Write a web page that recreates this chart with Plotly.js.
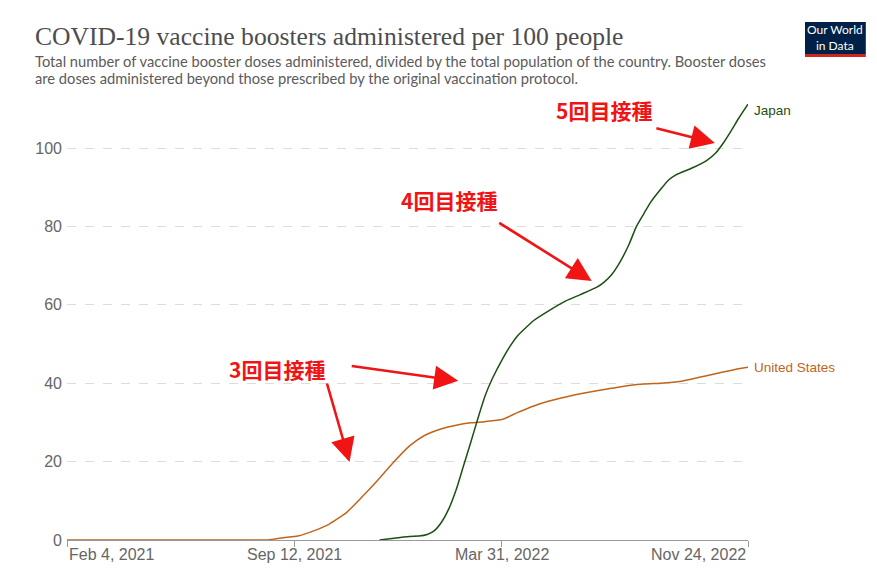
<!DOCTYPE html>
<html>
<head>
<meta charset="utf-8">
<script src="https://cdn.plot.ly/plotly-3.0.1.min.js"></script>
<style>
  html, body { margin: 0; padding: 0; background: #fff; }
  #chart { width: 877px; height: 572px; }
</style>
</head>
<body>
<div id="chart"></div>
<script>
// United States, booster doses per 100 people
const usDates = [
  "2021-02-04", "2021-08-01", "2021-08-15", "2021-09-01", "2021-09-15",
  "2021-10-01", "2021-10-15", "2021-11-01", "2021-11-15", "2021-12-01",
  "2021-12-15", "2022-01-01", "2022-01-15", "2022-02-01", "2022-02-15",
  "2022-03-01", "2022-03-15", "2022-04-01", "2022-04-15", "2022-05-01",
  "2022-05-15", "2022-06-01", "2022-06-15", "2022-07-01", "2022-07-15",
  "2022-08-01", "2022-08-15", "2022-09-01", "2022-09-15", "2022-10-01",
  "2022-10-15", "2022-11-01", "2022-11-15", "2022-11-24",
];
const usValues = [
  0, 0, 0, 0.6, 1.0,
  2.4, 4.0, 7.0, 10.7, 15.2,
  19.4, 24.0, 26.6, 28.4, 29.3,
  29.9, 30.2, 30.8, 32.5, 34.2,
  35.4, 36.5, 37.3, 38.1, 38.7,
  39.4, 39.8, 40.0, 40.3, 41.1,
  41.9, 42.9, 43.7, 44.1,
];

// Japan, booster doses per 100 people
const japanDates = [
  "2021-12-03", "2021-12-15", "2022-01-01", "2022-01-10", "2022-01-18",
  "2022-01-25", "2022-02-01", "2022-02-08", "2022-02-15", "2022-02-22",
  "2022-03-01", "2022-03-08", "2022-03-15", "2022-03-22", "2022-04-01",
  "2022-04-08", "2022-04-15", "2022-05-01", "2022-05-15", "2022-06-01",
  "2022-06-15", "2022-07-01", "2022-07-08", "2022-07-15", "2022-07-22",
  "2022-08-01", "2022-08-08", "2022-08-15", "2022-08-22", "2022-09-01",
  "2022-09-08", "2022-09-15", "2022-10-01", "2022-10-15", "2022-10-24",
  "2022-11-01", "2022-11-08", "2022-11-15", "2022-11-24",
];
const japanValues = [
  0, 0.4, 0.9, 1.0, 1.4,
  2.4, 4.6, 8.0, 12.8, 18.8,
  24.8, 31.0, 36.8, 41.2, 46.3,
  49.4, 52.0, 56.0, 58.4, 61.0,
  62.6, 64.5, 65.8, 67.6, 70.3,
  75.4, 79.9, 83.1, 86.2, 89.6,
  91.8, 93.1, 94.9, 96.8, 98.8,
  101.6, 104.5, 107.6, 111.2,
];

const tickDates = ["2021-02-04", "2021-09-12", "2022-03-31", "2022-11-24"];
const tickLabels = ["Feb 4, 2021", "Sep 12, 2021", "Mar 31, 2022", "Nov 24, 2022"];
const tickAnchors = ["left", "center", "center", "right"];
const yTicks = [0, 20, 40, 60, 80, 100];

const subtitleLines = [
  "Total number of vaccine booster doses administered, divided by the total population of the country. Booster doses",
  "are doses administered beyond those prescribed by the original vaccination protocol.",
];

const US_COLOR = "#c0651c";
const JP_COLOR = "#1d4f15";
const RED = "#f01414";
const SANS = "Liberation Sans";

const data = [
  {
    x: usDates, y: usValues, name: "United States",
    type: "scatter", mode: "lines", hoverinfo: "none",
    line: { color: US_COLOR, width: 1.5, shape: "spline", smoothing: 0.5 },
  },
  {
    x: japanDates, y: japanValues, name: "Japan",
    type: "scatter", mode: "lines", hoverinfo: "none",
    line: { color: JP_COLOR, width: 1.5, shape: "spline", smoothing: 0.5 },
  },
];

function arrow(x, y, ax, ay) {
  return {
    x, y, xref: "x", yref: "y", ax, ay, text: "",
    showarrow: true, arrowhead: 2, arrowsize: 1.85, arrowwidth: 2.6,
    arrowcolor: RED, standoff: 0,
  };
}
function note(text, x, y) {
  return {
    text, x, y, xref: "paper", yref: "paper", showarrow: false,
    xanchor: "center", yanchor: "middle",
    font: { family: "Noto Sans CJK JP", size: 21, color: RED, weight: 700 },
  };
}

const annotations = [
  // line end labels
  {
    text: "Japan", x: japanDates[japanDates.length - 1], y: japanValues[japanValues.length - 1],
    xref: "x", yref: "y", xanchor: "left", yanchor: "middle", xshift: 4, yshift: -6,
    showarrow: false,
    font: { family: SANS, size: 13.5, color: JP_COLOR },
  },
  {
    text: "United States", x: usDates[usDates.length - 1], y: usValues[usValues.length - 1],
    xref: "x", yref: "y", xanchor: "left", yanchor: "middle", xshift: 4, showarrow: false,
    font: { family: SANS, size: 13.5, color: US_COLOR },
  },
  // logo text
  {
    text: "Our World<br>in Data", xref: "paper", yref: "paper", x: 1.128, y: 1.145,
    xanchor: "center", yanchor: "middle", showarrow: false,
    font: { family: "Lato", size: 12, color: "#ffffff" },
  },
  // red notes
  note("5回目接種", 0.7886, 0.9795),
  note("4回目接種", 0.561, 0.7745),
  note("3回目接種", 0.3084, 0.3895),
  arrow("2022-10-23", 101.3, -60, -15),
  arrow("2022-06-26", 66.1, -94, -59),
  arrow("2022-02-17", 40.6, -108, -15),
  arrow("2021-11-04", 19.9, -23, -80),
];

// subtitle, one annotation per line
subtitleLines.forEach((line, i) => {
  annotations.push({
    text: line, xref: "paper", yref: "paper", x: -0.0473, y: [1.0911, 1.0524][i],
    xanchor: "left", yanchor: "middle", xshift: -2, showarrow: false,
    font: { family: "Lato", size: 14.7, color: "#5b5b5b" },
  });
});

// x tick labels: first one left-aligned, last one right-aligned
tickDates.forEach((d, i) => {
  annotations.push({
    text: tickLabels[i], x: d, y: 0, xref: "x", yref: "paper",
    xanchor: tickAnchors[i], yanchor: "top", yshift: -4, showarrow: false,
    font: { family: SANS, size: 16, color: "#666" },
  });
});

const layout = {
  width: 877,
  height: 572,
  margin: { t: 101, b: 32, l: 67, r: 129 },
  paper_bgcolor: "#ffffff",
  plot_bgcolor: "#ffffff",
  showlegend: false,
  title: {
    text: "COVID-19 vaccine boosters administered per 100 people",
    xref: "container", yref: "container", x: 35 / 877, xanchor: "left",
    y: 1 - 36 / 572, yanchor: "middle",
    font: { family: "Liberation Serif", size: 25.6, color: "#4d4d4d" },
  },
  xaxis: {
    type: "date",
    range: ["2021-02-04", "2022-11-24"],
    tickvals: tickDates,
    showticklabels: false,
    showgrid: false,
    showline: true,
    linecolor: "#999",
    linewidth: 1,
    ticks: "outside",
    ticklen: 6,
    tickcolor: "#999",
    zeroline: false,
    fixedrange: true,
  },
  yaxis: {
    range: [0, 112],
    tickvals: yTicks,
    showgrid: true,
    gridcolor: "#dcdcdc",
    griddash: "dash",
    zeroline: false,
    showline: false,
    ticks: "",
    ticklabelstandoff: 4,
    tickfont: { family: SANS, size: 16, color: "#666" },
    fixedrange: true,
  },
  shapes: [
    { type: "rect", xref: "paper", yref: "paper", x0: 1.0837, x1: 1.173, y0: 1.107, y1: 1.18,
      fillcolor: "#002147", line: { width: 0 } },
    { type: "rect", xref: "paper", yref: "paper", x0: 1.0837, x1: 1.173, y0: 1.1, y1: 1.107,
      fillcolor: "#ce261e", line: { width: 0 } },
  ],
  annotations,
};

Plotly.newPlot("chart", data, layout, { staticPlot: true, displayModeBar: false });
</script>
</body>
</html>
